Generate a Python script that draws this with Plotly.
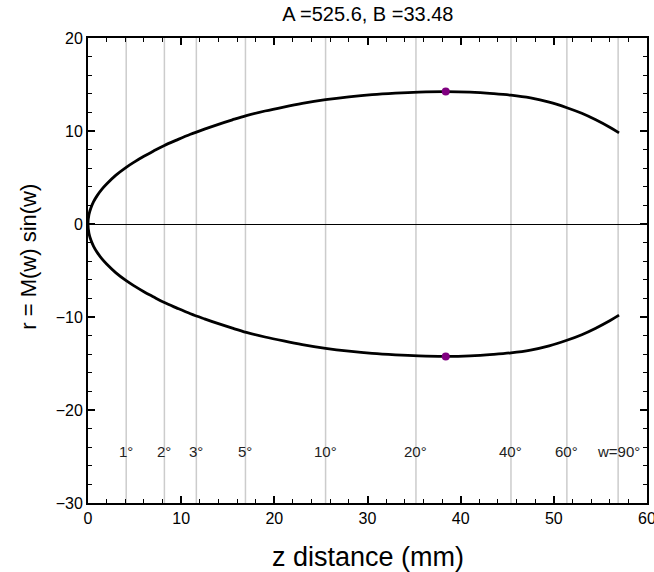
import plotly.graph_objects as go

# Curve (upper branch; lower branch is its mirror)
z_vals = [0.0, 0.1, 0.3, 0.6, 1.0, 1.5, 2.0, 3.0, 4.1, 5.0, 6.0, 7.0, 8.2, 9.5,
          11.0, 12.5, 14.0, 15.5, 17.0, 19.0, 21.0, 23.0, 25.5, 28.0, 30.5, 33.0,
          35.5, 38.4, 41.0, 43.5, 45.4, 47.5, 49.5, 51.4, 53.0, 54.5, 56.0, 57.0]
r_vals = [0.0, 1.0, 1.7, 2.4, 3.08, 3.75, 4.3, 5.25, 6.09, 6.68, 7.28, 7.82, 8.45, 9.02,
          9.65, 10.2, 10.72, 11.2, 11.65, 12.15, 12.58, 12.97, 13.37, 13.68, 13.92, 14.08,
          14.19, 14.24, 14.18, 14.02, 13.85, 13.55, 13.1, 12.5, 11.9, 11.2, 10.4, 9.8]

# Maximum point
peak_z = [38.4, 38.4]
peak_r = [14.24, -14.24]

# Angle marker lines
angle_z = [4.1, 8.2, 11.63, 16.9, 25.5, 35.2, 45.4, 51.4, 56.9]
angle_labels = ["1°", "2°", "3°", "5°", "10°", "20°", "40°", "60°", "w=90°"]
label_r = -24.5

title_text = "A =525.6, B =33.48"
x_title = "z distance (mm)"
y_title = "r = M(w) sin(w)"

FONT = "Liberation Sans, Arial, sans-serif"

zz = list(reversed(z_vals)) + z_vals[1:]
rr = [-v for v in reversed(r_vals)] + r_vals[1:]

fig = go.Figure()
fig.add_trace(go.Scatter(x=zz, y=rr, mode="lines",
                         line=dict(color="black", width=2.8, shape="spline", smoothing=1.0),
                         hoverinfo="skip", showlegend=False))
fig.add_trace(go.Scatter(x=peak_z, y=peak_r, mode="markers",
                         marker=dict(color="#800080", size=8),
                         showlegend=False))

shapes = []
for zv in angle_z:
    shapes.append(dict(type="line", xref="x", yref="paper", x0=zv, x1=zv, y0=0, y1=1,
                       line=dict(color="#cccccc", width=1.5), layer="below"))

annotations = []
for zv, lab in zip(angle_z, angle_labels):
    annotations.append(dict(x=zv, y=label_r, xref="x", yref="y", text=lab, showarrow=False,
                            font=dict(family=FONT, size=15, color="#222222"),
                            xanchor="center", yanchor="middle"))
annotations.append(dict(x=0.5, y=-0.116, xref="paper", yref="paper", text=x_title,
                        showarrow=False, font=dict(family=FONT, size=27, color="black"),
                        xanchor="center", yanchor="middle"))
annotations.append(dict(x=-0.107, y=0.53, xref="paper", yref="paper", text=y_title,
                        showarrow=False, textangle=-90,
                        font=dict(family=FONT, size=22, color="black"),
                        xanchor="center", yanchor="middle"))

axis_common = dict(showline=True, linecolor="black", linewidth=2, mirror="allticks",
                   ticks="inside", ticklen=7, tickwidth=1.5, tickcolor="black",
                   showgrid=False, automargin=False, ticklabeloverflow="allow",
                   tickfont=dict(family=FONT, size=16, color="black"),
                   minor=dict(ticks="inside", ticklen=4, tickwidth=1.2, tickcolor="black",
                              dtick=2, showgrid=False))

fig.update_layout(
    width=654, height=572,
    margin=dict(l=88, r=7, t=38, b=69),
    paper_bgcolor="white", plot_bgcolor="white",
    title=dict(text=title_text, x=0.5625, xanchor="center", y=0.975, yanchor="middle",
               font=dict(family=FONT, size=20, color="black")),
    shapes=shapes, annotations=annotations,
    xaxis=dict(range=[0, 60], dtick=10, zeroline=False, **axis_common),
    yaxis=dict(range=[-30, 20], dtick=10, zeroline=True, zerolinecolor="black",
               zerolinewidth=1.2, **axis_common),
)

fig.write_html("out.html")
